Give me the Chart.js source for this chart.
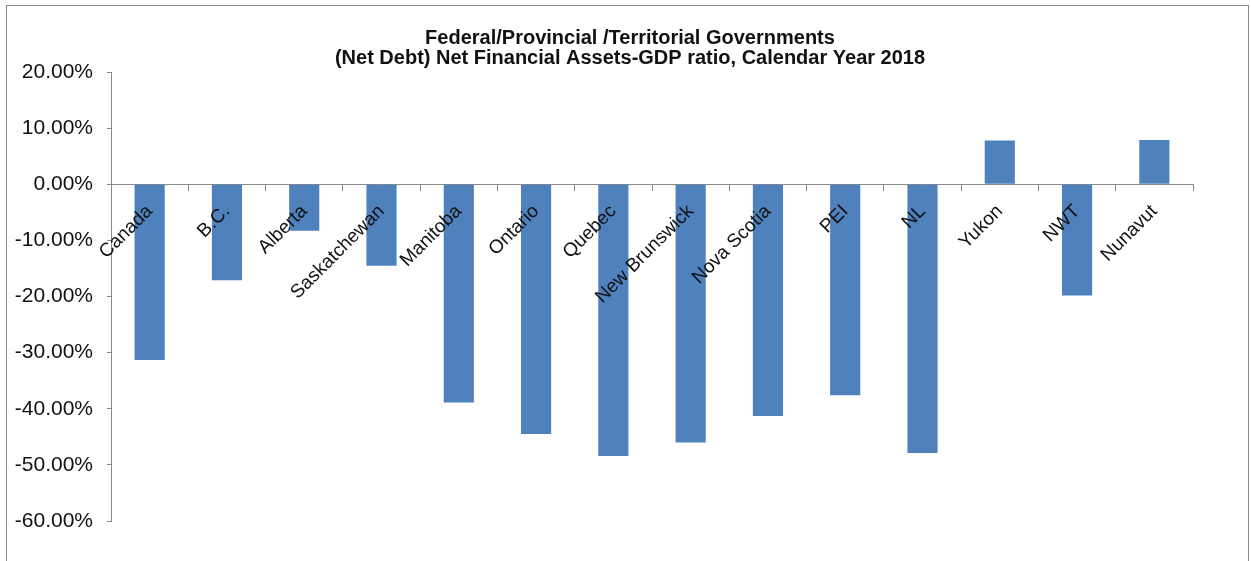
<!DOCTYPE html>
<html>
<head>
<meta charset="utf-8">
<script src="https://cdn.jsdelivr.net/npm/chart.js@4.4.0/dist/chart.umd.min.js"></script>
<style>
  html, body { margin: 0; padding: 0; background: #fff; }
  #wrap { position: relative; width: 1251px; height: 561px; }
  #frame { position: absolute; left: 6px; top: 5px; width: 1243px; height: 600px; border: 1px solid #8c8c8c; box-sizing: border-box; pointer-events: none; }
</style>
</head>
<body>
<div id="wrap">
  <canvas id="chart" width="1251" height="561"></canvas>
  <div id="frame"></div>
</div>
<script>
// Net debt / net financial assets as share of GDP, 2018
const regions = ['Canada', 'B.C.', 'Alberta', 'Saskatchewan', 'Manitoba', 'Ontario', 'Quebec',
  'New Brunswick', 'Nova Scotia', 'PEI', 'NL', 'Yukon', 'NWT', 'Nunavut'];
const ratios = [-31.3, -17.1, -8.3, -14.5, -38.9, -44.5, -48.4, -46.0, -41.3, -37.6, -47.9, 7.8, -19.8, 7.9];
const titleLines = ['Federal/Provincial /Territorial Governments',
  '(Net Debt) Net Financial Assets-GDP ratio, Calendar Year 2018'];

const FONT = "'Liberation Sans', Arial, sans-serif";
const axisGray = '#8a8a8a';

new Chart(document.getElementById('chart').getContext('2d'), {
  type: 'bar',
  data: {
    labels: regions,
    datasets: [{
      data: ratios,
      backgroundColor: '#4f81bd',
      borderWidth: 0,
      barPercentage: 0.39,
      categoryPercentage: 1
    }]
  },
  options: {
    responsive: false,
    animation: false,
    layout: { padding: { left: 13, right: 4, top: 0, bottom: 40 } },
    plugins: {
      legend: { display: false },
      tooltip: { enabled: false },
      title: {
        display: true,
        text: titleLines,
        color: '#111',
        font: { family: FONT, size: 20, weight: 'bold', lineHeight: 1.0 },
        padding: { top: 28, bottom: 4 }
      }
    },
    scales: {
      x: {
        position: { y: 0 },
        afterFit: s => { s.height = 0; },
        grid: { display: true, drawOnChartArea: false, offset: true, tickLength: 6, color: axisGray },
        border: { display: true, color: axisGray, width: 1 },
        ticks: {
          z: 1,
          autoSkip: false,
          maxRotation: 45,
          minRotation: 45,
          padding: 10,
          color: '#111',
          font: { family: FONT, size: 19 }
        }
      },
      y: {
        min: -60,
        max: 20,
        afterFit: s => { s.width = 98; },
        grid: { display: true, drawOnChartArea: false, tickLength: 4, color: axisGray },
        border: { display: true, color: axisGray, width: 1 },
        ticks: {
          stepSize: 10,
          padding: 14,
          color: '#111',
          font: { family: FONT, size: 21 },
          callback: v => v.toFixed(2) + '%'
        }
      },
      // empty right-hand spacer so the plot ends where the original does
      spacer: {
        type: 'linear',
        axis: 'y',
        position: 'right',
        afterFit: s => { s.width = 54; },
        grid: { display: false },
        border: { display: false },
        ticks: { display: false }
      }
    }
  }
});
</script>
</body>
</html>
